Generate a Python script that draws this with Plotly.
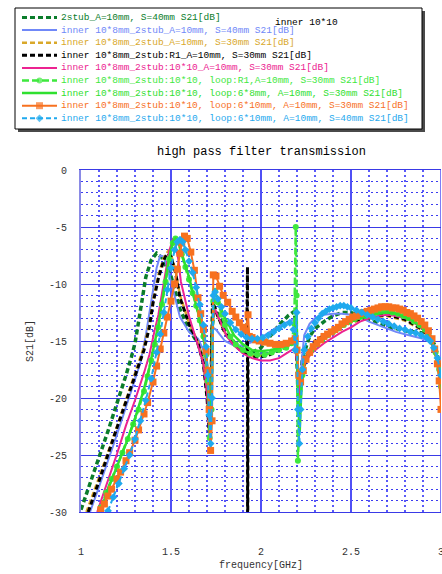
import plotly.graph_objects as go

# ---------------- measured S21 data (frequency in GHz, S21 in dB) ----------------
f_2stub_s40 = [1.00, 1.05, 1.10, 1.15, 1.20, 1.25, 1.28, 1.30, 1.32, 1.34, 1.36, 1.39, 1.42, 1.45, 1.48, 1.50,
               1.55, 1.60, 1.65, 1.68, 1.70, 1.712, 1.72, 1.728, 1.74, 1.77, 1.80, 1.85, 1.90, 1.95, 2.00, 2.05,
               2.10, 2.15, 2.185, 2.195, 2.205, 2.215, 2.23, 2.27, 2.30, 2.35, 2.40, 2.45, 2.50, 2.55, 2.60, 2.65,
               2.70, 2.75, 2.80, 2.85, 2.90, 2.94, 2.97, 2.99, 3.00]
s21_2stub_s40 = [-29.8, -27.6, -25.2, -22.9, -20.5, -18.0, -16.4, -15.2, -13.3, -11.2, -9.4, -7.9, -7.3, -7.7, -8.6, -9.3,
                 -12.2, -14.0, -15.2, -16.8, -19.0, -22.0, -21.0, -14.0, -12.0, -13.0, -14.0, -15.1, -15.8, -16.0, -15.6, -14.6,
                 -13.6, -12.8, -12.4, -14.0, -19.5, -19.0, -16.5, -14.6, -13.9, -13.3, -12.8, -12.5, -12.5, -12.8, -13.1, -13.4,
                 -13.7, -13.9, -14.1, -14.2, -14.3, -14.6, -15.5, -17.0, -18.0]

f_inner_s40 = [1.05, 1.10, 1.20, 1.30, 1.33, 1.36, 1.38, 1.40, 1.42, 1.44, 1.46, 1.48, 1.50, 1.525, 1.55, 1.60,
               1.65, 1.68, 1.70, 1.712, 1.72, 1.73, 1.75, 1.80, 1.85, 1.90, 1.95, 2.00, 2.05, 2.10, 2.15, 2.18,
               2.195, 2.205, 2.215, 2.225, 2.24, 2.27, 2.30, 2.35, 2.40, 2.45, 2.50, 2.55, 2.60, 2.65, 2.70, 2.75,
               2.80, 2.85, 2.90, 2.93, 2.96, 2.98, 3.00]
s21_inner_s40 = [-30.0, -27.8, -23.2, -18.3, -16.9, -14.5, -12.5, -10.5, -8.6, -7.5, -7.6, -8.6, -9.8, -11.2, -12.9, -14.2,
                 -14.8, -15.8, -18.0, -22.5, -21.0, -13.8, -14.0, -15.0, -15.4, -15.4, -15.1, -14.7, -14.2, -13.7, -13.3, -13.1,
                 -14.0, -19.0, -21.0, -17.0, -14.5, -13.5, -13.0, -12.7, -12.6, -12.6, -12.7, -12.9, -13.3, -13.6, -13.9, -14.2,
                 -14.4, -14.6, -14.8, -15.0, -15.5, -16.5, -18.0]

f_inner_s30 = [1.03, 1.10, 1.20, 1.30, 1.33, 1.35, 1.38, 1.40, 1.43, 1.46, 1.485, 1.50, 1.525, 1.55, 1.60, 1.65,
               1.68, 1.70, 1.712, 1.72, 1.73, 1.76, 1.80, 1.85, 1.90, 1.95, 2.00, 2.05, 2.10, 2.15, 2.19, 2.20,
               2.21, 2.225, 2.25, 2.30, 2.40, 2.50, 2.60, 2.70, 2.80, 2.90, 2.95, 2.98, 3.00]
s21_inner_s30 = [-30.0, -27.0, -22.5, -17.8, -16.4, -15.5, -13.5, -11.4, -9.2, -7.7, -7.1, -7.4, -8.8, -11.0, -13.4, -15.1,
                 -16.8, -19.5, -23.5, -22.0, -12.0, -12.9, -14.3, -15.3, -16.0, -16.3, -16.3, -16.1, -15.7, -15.2, -14.8, -16.5,
                 -19.5, -18.0, -16.4, -15.1, -14.1, -13.4, -13.0, -12.8, -13.2, -14.1, -15.0, -16.5, -19.0]

f_r1 = [1.04, 1.10, 1.20, 1.30, 1.33, 1.35, 1.38, 1.40, 1.43, 1.46, 1.48, 1.50, 1.525, 1.55, 1.60, 1.65,
        1.68, 1.70, 1.712, 1.72, 1.73, 1.76, 1.80, 1.85, 1.90, 1.92, 1.925, 1.9255, 1.928, 1.95, 2.00, 2.05,
        2.10, 2.15, 2.19, 2.20, 2.21, 2.23, 2.25, 2.30, 2.40, 2.50, 2.60, 2.70, 2.80, 2.90, 2.95, 2.98, 3.00]
s21_r1 = [-30.0, -27.3, -22.6, -18.0, -16.6, -15.8, -13.8, -11.7, -9.5, -7.9, -7.3, -7.6, -9.0, -11.2, -13.5, -15.2,
          -17.0, -20.0, -23.0, -22.0, -11.5, -12.8, -14.3, -15.3, -16.0, -16.2, -8.5, -40.0, -16.3, -16.4, -16.4, -16.2,
          -15.8, -15.3, -14.8, -16.5, -19.5, -18.0, -16.5, -15.0, -14.0, -13.3, -12.9, -12.7, -13.1, -14.0, -15.0, -16.5, -19.0]

f_1010 = [1.09, 1.15, 1.20, 1.25, 1.30, 1.35, 1.38, 1.41, 1.43, 1.45, 1.47, 1.49, 1.51, 1.52, 1.54, 1.555,
          1.60, 1.63, 1.66, 1.68, 1.70, 1.712, 1.72, 1.73, 1.745, 1.78, 1.81, 1.85, 1.90, 1.95, 2.00, 2.05,
          2.10, 2.15, 2.19, 2.20, 2.21, 2.22, 2.24, 2.27, 2.30, 2.35, 2.40, 2.45, 2.50, 2.55, 2.60, 2.65,
          2.70, 2.75, 2.80, 2.85, 2.90, 2.93, 2.96, 2.98, 3.00]
s21_1010 = [-30.0, -27.3, -24.9, -22.4, -20.2, -17.8, -16.2, -14.0, -12.7, -10.8, -8.8, -7.1, -6.1, -6.2, -7.8, -9.8,
            -12.8, -14.3, -15.8, -17.0, -19.5, -23.0, -22.0, -13.5, -12.2, -13.5, -14.6, -15.4, -16.1, -16.5, -16.7, -16.7,
            -16.5, -16.0, -15.6, -17.0, -20.0, -18.5, -17.0, -16.3, -15.8, -15.2, -14.7, -14.2, -13.8, -13.3, -13.0, -12.8,
            -12.7, -12.8, -13.0, -13.4, -14.0, -14.6, -15.6, -17.0, -19.0]

f_loop_r1 = [1.11, 1.14, 1.17, 1.20, 1.23, 1.26, 1.29, 1.32, 1.35, 1.37, 1.39, 1.41, 1.43, 1.45, 1.47, 1.49,
             1.51, 1.525, 1.54, 1.56, 1.58, 1.60, 1.62, 1.64, 1.66, 1.68, 1.695, 1.705, 1.715, 1.725, 1.735, 1.745,
             1.76, 1.78, 1.80, 1.83, 1.86, 1.90, 1.94, 1.98, 2.02, 2.06, 2.10, 2.14, 2.17, 2.185, 2.193, 2.198,
             2.205, 2.215, 2.23, 2.25, 2.28, 2.31, 2.34, 2.37, 2.40, 2.43, 2.46, 2.49, 2.52, 2.55, 2.58, 2.61,
             2.64, 2.67, 2.70, 2.73, 2.76, 2.79, 2.82, 2.85, 2.88, 2.91, 2.93, 2.95, 2.97, 2.99, 3.00]
s21_loop_r1 = [-29.6, -28.3, -27.1, -26.0, -24.8, -23.6, -22.3, -21.0, -19.4, -18.1, -16.7, -15.3, -13.8, -11.8, -9.8, -7.8,
               -6.4, -6.0, -6.3, -7.4, -8.5, -9.6, -10.8, -11.9, -13.2, -14.6, -16.2, -18.5, -23.5, -21.0, -11.5, -10.6,
               -11.6, -12.7, -13.6, -14.6, -15.3, -15.8, -16.1, -16.2, -16.2, -16.0, -15.8, -15.6, -15.2, -13.5, -5.0, -11.0,
               -25.5, -21.0, -18.0, -16.6, -15.8, -15.3, -14.9, -14.5, -14.2, -13.9, -13.6, -13.3, -13.1, -12.9, -12.8, -12.6,
               -12.5, -12.4, -12.4, -12.5, -12.6, -12.8, -13.0, -13.3, -13.6, -14.0, -14.4, -15.0, -16.0, -17.5, -19.0]

f_loop_6x8 = [1.11, 1.15, 1.20, 1.25, 1.30, 1.35, 1.38, 1.41, 1.43, 1.45, 1.47, 1.49, 1.51, 1.525, 1.54, 1.56,
              1.60, 1.65, 1.69, 1.705, 1.715, 1.725, 1.735, 1.745, 1.77, 1.80, 1.825, 1.85, 1.90, 1.95, 2.00, 2.05,
              2.10, 2.15, 2.18, 2.19, 2.197, 2.205, 2.215, 2.225, 2.24, 2.27, 2.30, 2.35, 2.40, 2.45, 2.50, 2.55,
              2.60, 2.65, 2.70, 2.75, 2.80, 2.85, 2.90, 2.93, 2.96, 2.98, 3.00]
s21_loop_6x8 = [-29.8, -28.0, -26.0, -24.0, -21.8, -19.2, -17.3, -15.2, -13.6, -11.6, -9.6, -7.7, -6.3, -6.0, -6.3, -7.4,
                -9.4, -12.5, -15.5, -18.0, -23.0, -20.0, -11.2, -10.8, -11.8, -13.0, -13.7, -14.5, -15.3, -15.8, -15.9, -15.8,
                -15.6, -15.4, -15.2, -14.0, -12.0, -20.0, -23.0, -19.0, -17.0, -16.0, -15.4, -14.8, -14.2, -13.7, -13.3, -13.0,
                -12.8, -12.6, -12.5, -12.6, -12.9, -13.3, -13.9, -14.5, -15.5, -17.0, -19.0]

f_loop_6x10_s30 = [1.11, 1.13, 1.15, 1.17, 1.20, 1.22, 1.25, 1.27, 1.30, 1.32, 1.35, 1.37, 1.40, 1.42, 1.44, 1.46,
                   1.48, 1.50, 1.52, 1.535, 1.55, 1.56, 1.575, 1.59, 1.61, 1.63, 1.65, 1.665, 1.68, 1.695, 1.705, 1.712,
                   1.72, 1.728, 1.735, 1.75, 1.77, 1.79, 1.815, 1.84, 1.86, 1.88, 1.90, 1.915, 1.928, 1.935, 1.95, 1.97,
                   1.99, 2.02, 2.05, 2.08, 2.11, 2.14, 2.17, 2.19, 2.20, 2.21, 2.22, 2.235, 2.25, 2.27, 2.29, 2.31,
                   2.33, 2.35, 2.37, 2.39, 2.41, 2.43, 2.45, 2.47, 2.49, 2.51, 2.53, 2.55, 2.57, 2.59, 2.61, 2.63,
                   2.65, 2.67, 2.69, 2.71, 2.73, 2.75, 2.77, 2.79, 2.81, 2.83, 2.85, 2.87, 2.89, 2.91, 2.93, 2.95,
                   2.965, 2.98, 2.99, 3.00]
s21_loop_6x10_s30 = [-29.8, -29.3, -28.6, -28.0, -27.1, -26.5, -25.5, -24.8, -23.7, -22.8, -21.4, -20.4, -18.6, -17.2, -15.7, -14.3,
                     -12.9, -11.5, -10.0, -8.7, -7.3, -6.4, -5.8, -6.0, -7.2, -8.8, -11.2, -12.6, -14.0, -15.9, -17.6, -21.0,
                     -24.6, -22.0, -9.2, -9.3, -10.2, -11.0, -11.6, -12.4, -12.9, -13.4, -13.8, -14.1, -12.7, -14.6, -14.7, -14.9,
                     -15.0, -15.1, -15.2, -15.3, -15.3, -15.2, -15.0, -14.8, -15.8, -18.0, -18.6, -17.6, -16.6, -16.0, -15.5, -15.2,
                     -14.9, -14.6, -14.4, -14.2, -14.0, -13.8, -13.5, -13.3, -13.1, -12.9, -12.8, -12.6, -12.5, -12.4, -12.3, -12.2,
                     -12.1, -12.0, -12.0, -12.0, -12.1, -12.1, -12.2, -12.3, -12.5, -12.6, -12.8, -13.0, -13.3, -13.6, -14.1, -14.8,
                     -15.7, -17.0, -18.5, -21.0]

f_loop_6x10_s40 = [1.15, 1.18, 1.21, 1.24, 1.27, 1.30, 1.33, 1.36, 1.39, 1.42, 1.44, 1.46, 1.48, 1.50, 1.52, 1.535,
                   1.55, 1.565, 1.58, 1.60, 1.62, 1.64, 1.66, 1.68, 1.695, 1.705, 1.712, 1.72, 1.728, 1.735, 1.745, 1.76,
                   1.78, 1.80, 1.83, 1.86, 1.89, 1.92, 1.95, 1.98, 2.01, 2.04, 2.07, 2.10, 2.13, 2.16, 2.18, 2.19,
                   2.198, 2.205, 2.213, 2.22, 2.23, 2.24, 2.26, 2.28, 2.30, 2.32, 2.34, 2.36, 2.38, 2.40, 2.42, 2.44,
                   2.46, 2.48, 2.50, 2.53, 2.56, 2.59, 2.62, 2.65, 2.68, 2.71, 2.74, 2.77, 2.80, 2.83, 2.86, 2.89,
                   2.92, 2.94, 2.96, 2.98, 3.00]
s21_loop_6x10_s40 = [-29.9, -28.7, -27.5, -26.2, -25.0, -23.6, -22.0, -20.2, -18.3, -16.0, -14.4, -12.5, -10.5, -8.6, -7.0, -6.3,
                     -6.1, -6.3, -7.0, -8.0, -9.0, -10.3, -11.8, -13.6, -15.5, -18.0, -21.5, -24.0, -20.0, -11.0, -10.7, -11.3,
                     -12.0, -12.6, -13.4, -14.0, -14.4, -14.7, -14.8, -14.8, -14.7, -14.5, -14.2, -13.9, -13.6, -13.4, -14.0, -15.8,
                     -12.5, -21.0, -24.0, -21.0, -17.5, -15.8, -14.6, -13.9, -13.4, -13.0, -12.6, -12.4, -12.2, -12.1, -12.0, -11.9,
                     -11.9, -12.0, -12.1, -12.3, -12.5, -12.7, -12.9, -13.1, -13.3, -13.5, -13.7, -13.9, -14.0, -14.2, -14.3, -14.5,
                     -14.7, -15.0, -15.6, -16.5, -18.0]

series_names = [
    "2stub_A=10mm, S=40mm S21[dB]",
    "inner 10*8mm_2stub_A=10mm, S=40mm S21[dB]",
    "inner 10*8mm_2stub_A=10mm, S=30mm S21[dB]",
    "inner 10*8mm_2stub:R1_A=10mm, S=30mm S21[dB]",
    "inner 10*8mm_2stub:10*10_A=10mm, S=30mm S21[dB]",
    "inner 10*8mm_2stub:10*10, loop:R1,A=10mm, S=30mm S21[dB]",
    "inner 10*8mm_2stub:10*10, loop:6*8mm, A=10mm, S=30mm S21[dB]",
    "inner 10*8mm_2stub:10*10, loop:6*10mm, A=10mm, S=30mm S21[dB]",
    "inner 10*8mm_2stub:10*10, loop:6*10mm, A=10mm, S=40mm S21[dB]",
]
series_f = [f_2stub_s40, f_inner_s40, f_inner_s30, f_r1, f_1010,
            f_loop_r1, f_loop_6x8, f_loop_6x10_s30, f_loop_6x10_s40]
series_s21 = [s21_2stub_s40, s21_inner_s40, s21_inner_s30, s21_r1, s21_1010,
              s21_loop_r1, s21_loop_6x8, s21_loop_6x10_s30, s21_loop_6x10_s40]

x_ticks = [1, 1.5, 2, 2.5, 3]
x_tick_text = ["1", "1.5", "2", "2.5", "3"]
y_ticks = [0, -5, -10, -15, -20, -25, -30]
y_tick_text = ["0", "-5", "-10", "-15", "-20", "-25", "-30"]
# minor grid every 0.1 GHz / 1 dB, skipping the major positions
x_minor = [round(1 + 0.1 * i, 2) for i in range(21) if i % 5]
y_minor = [-i for i in range(31) if i % 5]

# ---------------- styling ----------------
W, H = 442, 574
PL, PR, PT, PB = 81, 441, 170, 512   # plot area edges in pixels
MONO = "Liberation Mono, DejaVu Sans Mono, monospace"

styles = [
    dict(color="#0b7d2b", width=3.5, dash="5px,3px", marker=None),
    dict(color="#7088f8", width=2.0, dash="solid", marker=None),
    dict(color="#d9a82a", width=2.5, dash="5px,3px", marker=None),
    dict(color="#000000", width=3.0, dash="5px,3px", marker=None),
    dict(color="#ec2391", width=2.0, dash="solid", marker=None),
    dict(color="#3ee83e", width=2.5, dash="7px,3px", marker=("circle", 6)),
    dict(color="#2fe02f", width=2.5, dash="solid", marker=None),
    dict(color="#f7711f", width=2.0, dash="solid", marker=("square", 7)),
    dict(color="#1fa9ee", width=2.0, dash="5px,3px", marker=("diamond", 6)),
]

fig = go.Figure()

for name, fx, fy, st in zip(series_names, series_f, series_s21, styles):
    kw = dict(x=fx, y=fy, name=name, showlegend=False, xaxis="x", yaxis="y",
              line=dict(color=st["color"], width=st["width"], dash=st["dash"]))
    if st["marker"]:
        sym, size = st["marker"]
        kw["mode"] = "lines+markers"
        kw["marker"] = dict(symbol=sym, size=size, color=st["color"], line=dict(width=0))
    else:
        kw["mode"] = "lines"
    fig.add_trace(go.Scatter(**kw))

# ---------------- legend panel (drawn on a pixel-unit overlay axis) ----------------
BOX_L, BOX_T, BOX_R, BOX_B = 15, 8, 422, 129
ROW0, ROW_STEP = 17.5, 12.6
SAMPLE_X0, SAMPLE_X1, TEXT_X = 22, 57, 59

GRID_MAJOR = "#3a3ae6"
GRID_MAJOR_X = "#5050f5"
GRID_MINOR = "#3c3cf0"
GRID_MINOR_X = "#5a5af8"

shapes = [
    dict(type="rect", xref="x2", yref="y2", x0=BOX_L + 3, y0=BOX_T + 3, x1=BOX_R + 3, y1=BOX_B + 3,
         fillcolor="#4a4a4a", line=dict(width=0), layer="below"),
    dict(type="rect", xref="x2", yref="y2", x0=BOX_L, y0=BOX_T, x1=BOX_R, y1=BOX_B,
         fillcolor="white", line=dict(color="black", width=1), layer="below"),
    # right border of the plot area (grid line at the end of the frequency range)
    dict(type="line", xref="x", yref="y domain", x0=3, x1=3, y0=0, y1=1,
         line=dict(color=GRID_MAJOR_X, width=1.5), layer="below"),
]

annotations = []
for i, (name, st) in enumerate(zip(series_names, styles)):
    ry = ROW0 + ROW_STEP * i
    xm = (SAMPLE_X0 + SAMPLE_X1) / 2
    kw = dict(x=[SAMPLE_X0, xm, SAMPLE_X1], y=[ry, ry, ry], xaxis="x2", yaxis="y2",
              showlegend=False, hoverinfo="skip",
              line=dict(color=st["color"], width=min(st["width"], 3), dash=st["dash"]))
    if st["marker"]:
        sym, size = st["marker"]
        kw["mode"] = "lines+markers"
        kw["marker"] = dict(symbol=sym, size=[0, size, 0], color=st["color"], line=dict(width=0))
    else:
        kw["mode"] = "lines"
    fig.add_trace(go.Scatter(**kw))
    annotations.append(dict(x=TEXT_X, y=ry, xref="x2", yref="y2", text=name, showarrow=False,
                            xanchor="left", yanchor="middle",
                            font=dict(family=MONO, size=9.5, color=st["color"])))

annotations += [
    dict(x=273, y=22, xref="x2", yref="y2", text="inner 10*10", showarrow=False,
         xanchor="left", yanchor="middle", font=dict(family=MONO, size=9.5, color="black")),
    dict(x=261, y=152, xref="x2", yref="y2", text="high pass filter transmission", showarrow=False,
         xanchor="center", yanchor="middle", font=dict(family=MONO, size=12, color="black")),
    dict(x=261, y=565, xref="x2", yref="y2", text="frequency[GHz]", showarrow=False,
         xanchor="center", yanchor="middle", font=dict(family=MONO, size=10, color="#333")),
    dict(x=30, y=341, xref="x2", yref="y2", text="S21[dB]", showarrow=False, textangle=-90,
         xanchor="center", yanchor="middle", font=dict(family=MONO, size=10, color="#333")),
]

fig.update_layout(
    width=W, height=H,
    margin=dict(l=0, r=0, t=0, b=0, pad=0),
    template="none",
    paper_bgcolor="white",
    plot_bgcolor="rgba(0,0,0,0)",
    showlegend=False,
    shapes=shapes,
    annotations=annotations,
    xaxis=dict(
        domain=[PL / W, PR / W], range=[1, 3], anchor="y", automargin=False,
        tickmode="array", tickvals=x_ticks, ticktext=x_tick_text, ticks="",
        ticklabelstandoff=30, ticklabeloverflow="allow",
        tickfont=dict(family=MONO, size=10, color="#333"),
        showgrid=True, gridcolor=GRID_MAJOR_X, gridwidth=1.5, zeroline=False,
        showline=True, linecolor=GRID_MAJOR, linewidth=1, mirror=True,
        minor=dict(tickmode="array", tickvals=x_minor, showgrid=True, gridcolor=GRID_MINOR_X,
                   griddash="2px,3px", gridwidth=1.5, ticks=""),
        fixedrange=True,
    ),
    yaxis=dict(
        domain=[1 - PB / H, 1 - PT / H], range=[-30, 0], anchor="x", automargin=False,
        tickmode="array", tickvals=y_ticks, ticktext=y_tick_text, ticks="",
        ticklabelstandoff=10, ticklabeloverflow="allow",
        tickfont=dict(family=MONO, size=10, color="#333"),
        showgrid=True, gridcolor=GRID_MAJOR, gridwidth=1, zeroline=False,
        showline=True, linecolor="#8a8ae6", linewidth=2,
        minor=dict(tickmode="array", tickvals=y_minor, showgrid=True, gridcolor=GRID_MINOR,
                   griddash="2px,3px", gridwidth=1, ticks=""),
        fixedrange=True,
    ),
    xaxis2=dict(domain=[0, 1], range=[0, W], anchor="y2", visible=False, fixedrange=True,
                showgrid=False, zeroline=False),
    yaxis2=dict(domain=[0, 1], range=[H, 0], anchor="x2", visible=False, fixedrange=True,
                showgrid=False, zeroline=False),
)

fig.write_html("out.html")
